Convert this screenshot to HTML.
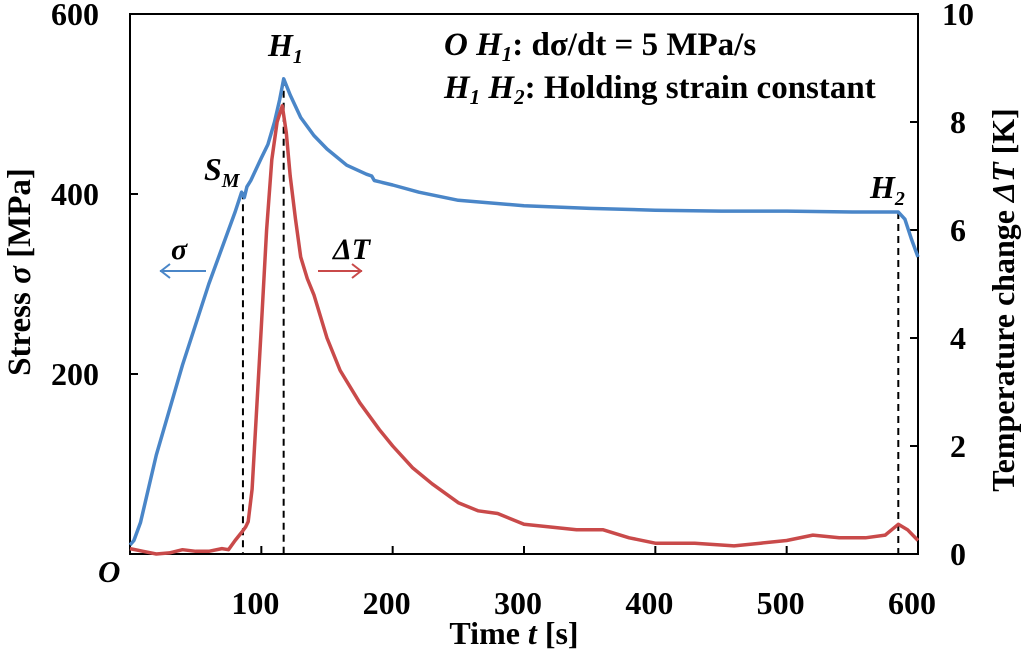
<!DOCTYPE html>
<html><head><meta charset="utf-8"><style>
html,body{margin:0;padding:0;background:#fff;}
svg{display:block;font-family:"Liberation Serif",serif;font-weight:bold;}
</style></head><body>
<svg id="chart" width="1024" height="651" viewBox="0 0 1024 651">
<g id="axes"></g><g id="series"></g>
<g font-family="Liberation Serif, serif" font-weight="bold">
<text x="98" y="582" font-size="31" font-style="italic">O</text>
<text x="514" y="644" font-size="32" text-anchor="middle">Time <tspan font-style="italic">t</tspan> [s]</text>
<text transform="translate(30,272) rotate(-90)" font-size="33" text-anchor="middle">Stress <tspan font-style="italic">σ</tspan> [MPa]</text>
<text transform="translate(1014,300) rotate(-90)" font-size="32" text-anchor="middle">Temperature change <tspan font-style="italic">ΔT</tspan> [K]</text>
<text x="268" y="56" font-size="32" font-style="italic">H<tspan font-size="20" dy="7">1</tspan></text>
<text x="204" y="180" font-size="32" font-style="italic">S<tspan font-size="20" dy="7">M</tspan></text>
<text x="870" y="198" font-size="32" font-style="italic">H<tspan font-size="20" dy="7">2</tspan></text>
<text x="444" y="55" font-size="33"><tspan font-style="italic">O H</tspan><tspan font-style="italic" font-size="21" dy="6">1</tspan><tspan dy="-6">: dσ/dt = 5 MPa/s</tspan></text>
<text x="444" y="98" font-size="33"><tspan font-style="italic">H</tspan><tspan font-style="italic" font-size="21" dy="6">1</tspan><tspan font-style="italic" dy="-6"> H</tspan><tspan font-style="italic" font-size="21" dy="6">2</tspan><tspan dy="-6">: Holding strain constant</tspan></text>
<text x="171" y="259" font-size="30" font-style="italic">σ</text>
<g stroke="#4a86c8" stroke-width="2" fill="none"><line x1="160" y1="271" x2="206" y2="271"/><polyline points="170,264 161,271 170,278"/></g>
<text x="333" y="259" font-size="30" font-style="italic">ΔT</text>
<g stroke="#c94a4a" stroke-width="2" fill="none"><line x1="318" y1="271" x2="362" y2="271"/><polyline points="352,264 361,271 352,278"/></g>
</g>
</svg>
<script>
const xTicks=[100,200,300,400,500,600];
const yLeftTicks=[200,400,600];
const yRightTicks=[0,2,4,6,8,10];
const stressT=[0,3,8,20,40,60,80,85,87,89,92,100,105,110,114,117,122,130,140,150,165,180,184,186,200,220,250,300,350,400,450,500,550,585,590,595,600];
const stressV=[10,15,35,110,210,300,380,402,396,408,415,440,455,480,505,528,510,485,465,450,432,422,420,415,410,402,393,387,384,382,381,381,380,380,372,350,330];
const tempT=[0,10,20,30,40,50,60,70,75,80,85,88,90,93,96,100,104,108,112,116,119,122,126,130,135,140,150,160,175,190,200,215,230,250,265,280,300,320,340,360,380,400,430,460,480,500,520,540,560,575,585,592,600];
const tempV=[0.1,0.05,0.0,0.02,0.08,0.05,0.05,0.1,0.08,0.25,0.4,0.5,0.6,1.2,2.5,4.2,6.0,7.3,8.0,8.3,7.8,7.0,6.2,5.5,5.1,4.8,4.0,3.4,2.8,2.3,2.0,1.6,1.3,0.95,0.8,0.75,0.55,0.5,0.45,0.45,0.3,0.2,0.2,0.15,0.2,0.25,0.35,0.3,0.3,0.35,0.55,0.45,0.25];
const X0=130,X1=918,Y0=554,Y1=14;
const xs=t=>X0+(X1-X0)*t/600;
const yl=v=>Y0-(Y0-Y1)*v/600;
const yr=v=>Y0-(Y0-Y1)*v/10;
const NS="http://www.w3.org/2000/svg";
function mk(tag,attrs,parent,text){const e=document.createElementNS(NS,tag);for(const k in attrs)e.setAttribute(k,attrs[k]);if(text!==undefined)e.textContent=text;document.getElementById(parent).appendChild(e);return e;}
let e=mk('rect',{x:X0,y:Y1,width:X1-X0,height:Y0-Y1,fill:'none',stroke:'#000','stroke-width':2},'axes');


xTicks.forEach(t=>{
 let l=mk('line',{x1:xs(t),x2:xs(t),y1:Y0,y2:Y0-8,stroke:'#000','stroke-width':2},'axes');
 
 
 let tx=mk('text',{x:xs(t)-6,y:614,'font-size':32,'text-anchor':'middle'},'axes',t);
 
 
});
yLeftTicks.forEach(v=>{
 let l=mk('line',{x1:X0,x2:X0+8,y1:yl(v),y2:yl(v),stroke:'#000','stroke-width':2},'axes');
 
 
 let tx=mk('text',{x:99,y:yl(v)+11,'font-size':32,'text-anchor':'end'},'axes',v);
 
 
});
yRightTicks.forEach(v=>{
 let l=mk('line',{x1:X1,x2:X1-8,y1:yr(v),y2:yr(v),stroke:'#000','stroke-width':2},'axes');
 
 
 let tx=mk('text',{x:958,y:yr(v)+11,'font-size':32,'text-anchor':'middle'},'axes',v);
 
 
});
[[86,402],[117,528],[585,380]].forEach(p=>{
 let l=mk('line',{x1:xs(p[0]),x2:xs(p[0]),y1:yl(p[1]),y2:Y0,stroke:'#000','stroke-width':2,'stroke-dasharray':'7,5'},'series');
 
 
});
let d=stressT.map((t,i)=>(i?'L':'M')+xs(t).toFixed(1)+','+yl(stressV[i]).toFixed(1)).join('');
e=mk('path',{d:d,fill:'none',stroke:'#4a86c8','stroke-width':3.5,'stroke-linejoin':'round'},'series');


d=tempT.map((t,i)=>(i?'L':'M')+xs(t).toFixed(1)+','+yr(tempV[i]).toFixed(1)).join('');
e=mk('path',{d:d,fill:'none',stroke:'#c94a4a','stroke-width':3.5,'stroke-linejoin':'round'},'series');


</script>
</body></html>
